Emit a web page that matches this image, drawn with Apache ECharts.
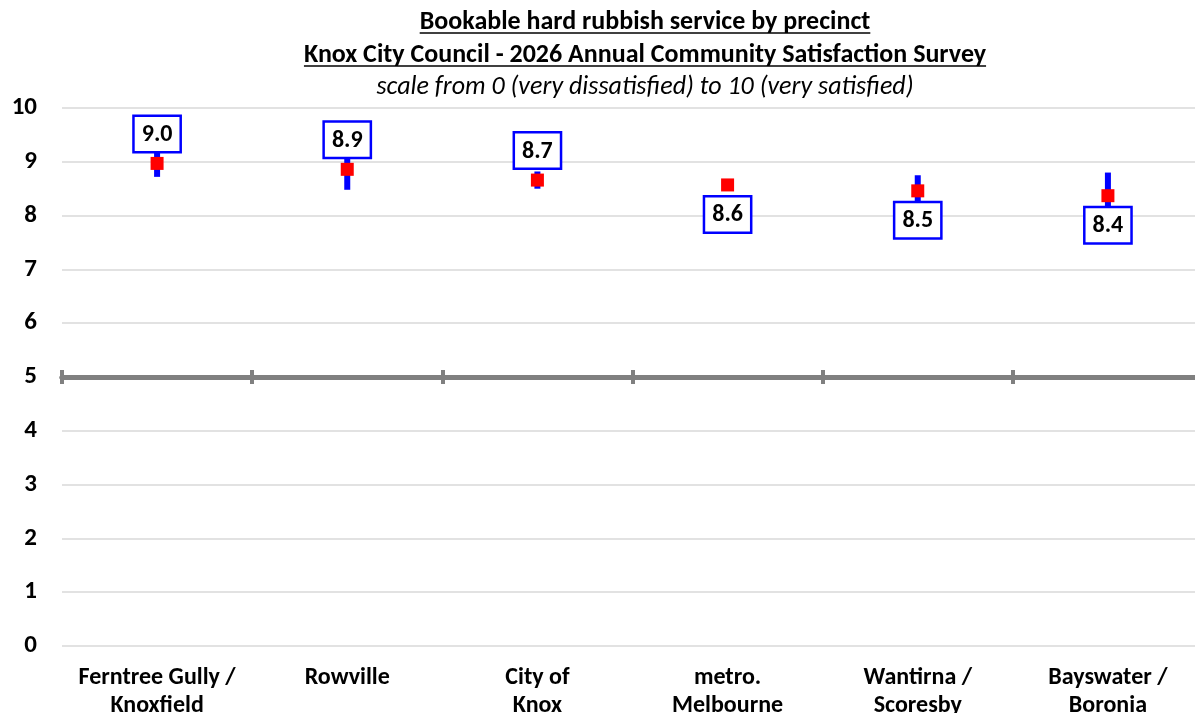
<!DOCTYPE html>
<html>
<head>
<meta charset="utf-8">
<script src="https://cdn.jsdelivr.net/npm/echarts@6/dist/echarts.min.js"></script>
<style>
html,body{margin:0;padding:0;background:#fff;overflow:hidden;}
#chart{width:1195px;height:713px;}
</style>
</head>
<body>
<div id="chart"></div>
<script>
// ---- data ----
const categories = ['Ferntree Gully /\nKnoxfield', 'Rowville', 'City of\nKnox', 'metro.\nMelbourne', 'Wantirna /\nScoresby', 'Bayswater /\nBoronia'];
const means = [8.97, 8.86, 8.66, 8.57, 8.46, 8.37];
const lower = [8.72, 8.48, 8.50, 8.52, 8.17, 7.94];
const upper = [9.22, 9.24, 8.82, 8.62, 8.75, 8.80];
const labelSide = ['top', 'top', 'top', 'bottom', 'bottom', 'bottom'];
const yTicks = [0, 1, 2, 3, 4, 5, 6, 7, 8, 9, 10];
const titleLines = [
  'Bookable hard rubbish service by precinct',
  'Knox City Council - 2026 Annual Community Satisfaction Survey',
  'scale from 0 (very dissatisfied) to 10 (very satisfied)'
];

const FONT = 'Carlito, "Liberation Sans Narrow", "Open Sans", sans-serif';

function measure(text, font) {
  const c = document.createElement('canvas').getContext('2d');
  c.font = font;
  return c.measureText(text).width;
}

const titleX = 645;
const titleSpecs = [
  {text: titleLines[0], y: 22, weight: 'bold', style: 'normal', size: 26, underline: true},
  {text: titleLines[1], y: 55, weight: 'bold', style: 'normal', size: 26, underline: true},
  {text: titleLines[2], y: 87, weight: 'normal', style: 'italic', size: 26, underline: false}
];
const graphics = [];
titleSpecs.forEach(s => {
  graphics.push({
    type: 'text', x: titleX, y: s.y,
    style: {text: s.text, fill: '#000', fontFamily: FONT, fontSize: s.size, fontWeight: s.weight, fontStyle: s.style, align: 'center', verticalAlign: 'middle'}
  });
  if (s.underline) {
    const w = measure(s.text, `${s.style} ${s.weight} ${s.size}px ${FONT}`);
    graphics.push({
      type: 'line', shape: {x1: titleX - w / 2, y1: s.y + 11, x2: titleX + w / 2, y2: s.y + 11},
      style: {stroke: '#000', lineWidth: 1.5}
    });
  }
});

const chart = echarts.init(document.getElementById('chart'));
const gray = '#808080';
const option = {
  animation: false,
  backgroundColor: '#fff',
  graphic: graphics,
  grid: {left: 62, right: -8, top: 108, height: 538, containLabel: false, outerBoundsMode: 'none'},
  xAxis: [
    {type: 'category', data: categories, position: 'bottom', gridIndex: 0,
     axisLine: {show: true, onZero: true, onZeroAxisIndex: 1, lineStyle: {color: gray, width: 5}},
     axisTick: {show: true, inside: true, length: 7, lineStyle: {color: gray, width: 4}},
     axisLabel: {show: false}, splitLine: {show: false}, z: 5},
    {type: 'category', data: categories, position: 'bottom', gridIndex: 0,
     axisLine: {show: true, onZero: true, onZeroAxisIndex: 1, lineStyle: {color: gray, width: 5}},
     axisTick: {show: true, inside: false, length: 7, lineStyle: {color: gray, width: 4}},
     axisLabel: {show: false}, splitLine: {show: false}, z: 5},
    {type: 'category', data: categories, position: 'bottom', gridIndex: 0,
     axisLine: {show: false, onZero: false}, axisTick: {show: false},
     axisLabel: {show: true, margin: 18, color: '#000', fontFamily: FONT, fontSize: 24, fontWeight: 'bold', lineHeight: 28, interval: 0},
     splitLine: {show: false}}
  ],
  yAxis: [
    {type: 'value', min: yTicks[0], max: yTicks[yTicks.length - 1], interval: 1, gridIndex: 0,
     axisLine: {show: false}, axisTick: {show: false},
     axisLabel: {color: '#000', fontFamily: FONT, fontSize: 25, fontWeight: 'bold', margin: 25},
     splitLine: {show: true, lineStyle: {color: '#d9d9d9', width: 1.5}}},
    {type: 'value', min: -5, max: 5, show: false, gridIndex: 0, splitLine: {show: false}}
  ],
  series: [
    {
      type: 'custom', xAxisIndex: 2, yAxisIndex: 0, z: 2,
      data: categories.map((c, i) => [i, lower[i], upper[i]]),
      renderItem: function (params, api) {
        const i = api.value(0);
        const lo = api.coord([i, api.value(1)]);
        const hi = api.coord([i, api.value(2)]);
        return {type: 'line', shape: {x1: lo[0], y1: lo[1], x2: hi[0], y2: hi[1]}, style: {stroke: '#0000ff', lineWidth: 6}};
      }
    },
    {
      type: 'scatter', xAxisIndex: 2, yAxisIndex: 0, z: 3,
      symbol: 'rect', symbolSize: 13,
      itemStyle: {color: '#ff0000', opacity: 1},
      emphasis: {disabled: true},
      data: means.map((v, i) => ({
        value: [i, v],
        label: {position: labelSide[i]}
      })),
      label: {
        show: true, distance: 6,
        formatter: p => p.value[1].toFixed(1),
        color: '#000', fontFamily: FONT, fontSize: 24, fontWeight: 'bold',
        backgroundColor: '#fff', borderColor: '#0000ff', borderWidth: 2.5,
        padding: [6, 7, 4, 7], lineHeight: 24, opacity: 1
      }
    }
  ]
};
chart.setOption(option);
</script>
</body>
</html>
